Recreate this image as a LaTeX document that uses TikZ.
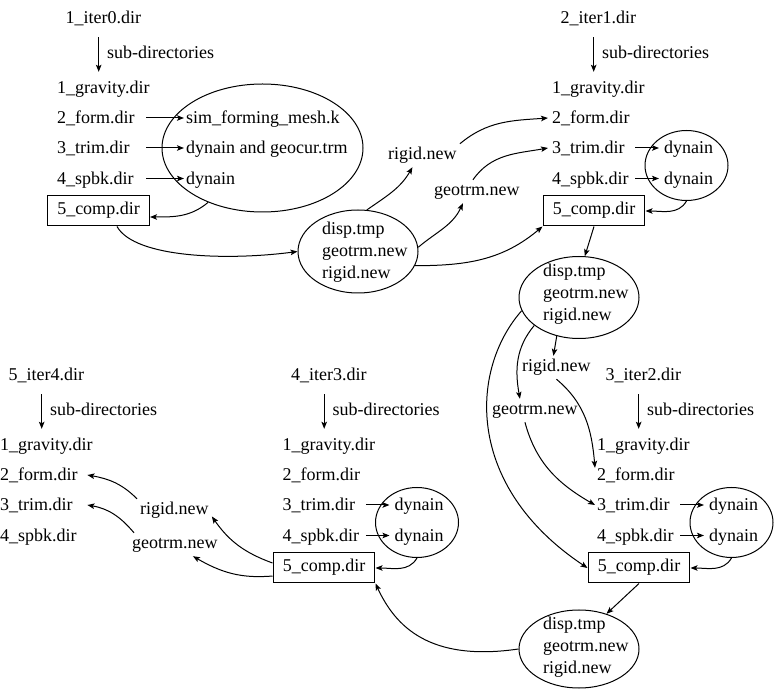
\documentclass[tikz,border=0pt]{standalone}
\usepackage{fontspec}
\setmainfont{Liberation Serif}
\usetikzlibrary{arrows.meta,shapes.geometric}
\begin{document}
\begin{tikzpicture}[x=1pt,y=1pt,
  every node/.style={font=\fontsize{18pt}{22pt}\selectfont},
  txt/.style={inner sep=0pt, anchor=base west, text height=13pt, text depth=1pt},
  lbl/.style={inner sep=3pt, anchor=base west, text height=13pt, text depth=4pt},
  dirbox/.style={draw, line width=1pt, inner xsep=9.75pt, inner ysep=6.5pt, text height=12.5pt, text depth=4.5pt, anchor=base},
  ell/.style={draw, ellipse, line width=1pt, inner sep=0pt},
  arr/.style={-{Stealth[length=7pt,width=5.5pt,inset=1.5pt]}, line width=1pt},
  lines/.style={inner sep=0pt, anchor=west, align=left},
]
\useasboundingbox (0,0) rectangle (780,-692);

% ---------- group 1 ----------
\begin{scope}[shift={(57,0)}]
\node[txt] (g1it) at (8.5,-24) {1\_iter0.dir};
\node[txt] (g1sd) at (50,-59) {sub-directories};
\node[txt] (g1gr) at (0,-94) {1\_gravity.dir};
\node[txt] (g1fo) at (0,-124) {2\_form.dir};
\node[txt] (g1tr) at (0,-154) {3\_trim.dir};
\node[txt] (g1sp) at (0,-184.5) {4\_spbk.dir};
\node[dirbox] (b1) at (41.5,-215) {5\_comp.dir};
\node[ell, minimum width=201pt, minimum height=128pt] (e1) at (205.5,-148) {};
\node[txt] (g1f1) at (129,-124) {sim\_forming\_mesh.k};
\node[txt] (g1f2) at (129,-154) {dynain and geocur.trm};
\node[txt] (g1f3) at (129,-184.5) {dynain};
\end{scope}
\draw[arr] ([xshift=-4.75pt,yshift=-12pt]g1it.south) -- ([xshift=-4.75pt,yshift=9pt]g1it.south |- g1gr.north);
\draw[arr] ([xshift=11.5pt]g1fo.east) -- ([xshift=-2pt]g1f1.west);
\draw[arr] ([xshift=16.5pt]g1tr.east) -- ([xshift=-2pt]g1f2.west);
\draw[arr] ([xshift=12.5pt]g1sp.east) -- ([xshift=-2pt]g1f3.west);
\draw[arr] (e1.225) to[out=-140,in=0] ([yshift=-6pt]b1.east);

% ---------- group 2 ----------
\begin{scope}[shift={(552,0)}]
\node[txt] (g2it) at (8.5,-24) {2\_iter1.dir};
\node[txt] (g2sd) at (50,-59) {sub-directories};
\node[txt] (g2gr) at (0,-94) {1\_gravity.dir};
\node[txt] (g2fo) at (0,-124) {2\_form.dir};
\node[txt] (g2tr) at (0,-154) {3\_trim.dir};
\node[txt] (g2sp) at (0,-184.5) {4\_spbk.dir};
\node[dirbox] (b2) at (42,-215) {5\_comp.dir};
\node[ell, minimum width=83pt, minimum height=70pt] (g2e) at (134.5,-165.5) {};
\node[txt] (g2d1) at (112,-154) {dynain};
\node[txt] (g2d2) at (112,-184.5) {dynain};
\end{scope}
\draw[arr] ([xshift=-4.75pt,yshift=-12pt]g2it.south) -- ([xshift=-4.75pt,yshift=9pt]g2it.south |- g2gr.north);
\draw[arr] ([xshift=10.5pt]g2tr.east) -- ([xshift=-5pt]g2d1.west);
\draw[arr] ([xshift=6.5pt]g2sp.east) -- ([xshift=-5pt]g2d2.west);
\draw[arr] (g2e.south) to[out=-120,in=0] (b2.east);

% ---------- group 3 ----------
\begin{scope}[shift={(597,-357)}]
\node[txt] (g3it) at (8.5,-24) {3\_iter2.dir};
\node[txt] (g3sd) at (50,-59) {sub-directories};
\node[txt] (g3gr) at (0,-94) {1\_gravity.dir};
\node[txt] (g3fo) at (0,-124) {2\_form.dir};
\node[txt] (g3tr) at (0,-154) {3\_trim.dir};
\node[txt] (g3sp) at (0,-184.5) {4\_spbk.dir};
\node[dirbox] (b3) at (42,-215) {5\_comp.dir};
\node[ell, minimum width=83pt, minimum height=70pt] (g3e) at (134.5,-165.5) {};
\node[txt] (g3d1) at (112,-154) {dynain};
\node[txt] (g3d2) at (112,-184.5) {dynain};
\end{scope}
\draw[arr] ([xshift=-4.75pt,yshift=-12pt]g3it.south) -- ([xshift=-4.75pt,yshift=9pt]g3it.south |- g3gr.north);
\draw[arr] ([xshift=10.5pt]g3tr.east) -- ([xshift=-5pt]g3d1.west);
\draw[arr] ([xshift=6.5pt]g3sp.east) -- ([xshift=-5pt]g3d2.west);
\draw[arr] (g3e.south) to[out=-120,in=0] (b3.east);

% ---------- group 4 ----------
\begin{scope}[shift={(282.5,-357)}]
\node[txt] (g4it) at (8.5,-24) {4\_iter3.dir};
\node[txt] (g4sd) at (50,-59) {sub-directories};
\node[txt] (g4gr) at (0,-94) {1\_gravity.dir};
\node[txt] (g4fo) at (0,-124) {2\_form.dir};
\node[txt] (g4tr) at (0,-154) {3\_trim.dir};
\node[txt] (g4sp) at (0,-184.5) {4\_spbk.dir};
\node[dirbox] (b4) at (41.5,-215) {5\_comp.dir};
\node[ell, minimum width=83pt, minimum height=70pt] (g4e) at (134.5,-165.5) {};
\node[txt] (g4d1) at (112,-154) {dynain};
\node[txt] (g4d2) at (112,-184.5) {dynain};
\end{scope}
\draw[arr] ([xshift=-4.75pt,yshift=-12pt]g4it.south) -- ([xshift=-4.75pt,yshift=9pt]g4it.south |- g4gr.north);
\draw[arr] ([xshift=10.5pt]g4tr.east) -- ([xshift=-5pt]g4d1.west);
\draw[arr] ([xshift=6.5pt]g4sp.east) -- ([xshift=-5pt]g4d2.west);
\draw[arr] (g4e.south) to[out=-120,in=0] (b4.east);

% ---------- group 5 ----------
\begin{scope}[shift={(0,-357)}]
\node[txt] (g5it) at (8.5,-24) {5\_iter4.dir};
\node[txt] (g5sd) at (50,-59) {sub-directories};
\node[txt] (g5gr) at (0,-94) {1\_gravity.dir};
\node[txt] (g5fo) at (0,-124) {2\_form.dir};
\node[txt] (g5tr) at (0,-154) {3\_trim.dir};
\node[txt] (g5sp) at (0,-184.5) {4\_spbk.dir};
\end{scope}
\draw[arr] ([xshift=-4.75pt,yshift=-12pt]g5it.south) -- ([xshift=-4.75pt,yshift=9pt]g5it.south |- g5gr.north);

% ---------- transfer ellipses and labels ----------
\node[ell, minimum width=120pt, minimum height=83pt] (e2) at (358,-251.5) {};
\node[lines] (t2) at (322,-251.8) {disp.tmp\\geotrm.new\\rigid.new};
\node[lbl] (r1) at (385,-160) {rigid.new};
\node[lbl] (gl1) at (431,-196) {geotrm.new};

\node[ell, minimum width=120pt, minimum height=82pt] (e3) at (579,-297.5) {};
\node[lines] (t3) at (543,-293.8) {disp.tmp\\geotrm.new\\rigid.new};
\node[lbl] (r2) at (519,-372) {rigid.new};
\node[lbl] (gl2) at (489,-415) {geotrm.new};

\node[ell, minimum width=120pt, minimum height=78pt] (e4) at (579,-649) {};
\node[lines] (t4) at (543,-647.3) {disp.tmp\\geotrm.new\\rigid.new};
\node[lbl] (r3) at (137,-515) {rigid.new};
\node[lbl] (gl3) at (129,-549) {geotrm.new};

% iteration 0 -> 1
\draw[arr] ([xshift=18.5pt]b1.south) .. controls +(18,-32) and +(-68,-9) .. (e2.west);
\draw[arr] (e2.78) to[out=35,in=-120] ([xshift=-10pt]r1.south);
\draw[arr] (r1.north east) to[out=40,in=184] ([xshift=-4pt]g2fo.west);
\draw[arr] (e2.4) to[out=40,in=-115] ([xshift=-14pt]gl1.south);
\draw[arr] ([xshift=-4pt]gl1.north) to[out=55,in=190] ([xshift=-4pt]g2tr.west);
\draw[arr] (e2.-14) to[out=0,in=-140] (b2.south west);

% iteration 1 -> 2
\draw[arr] (b2.south) -- (e3.82);
\draw[arr] (e3.240) -- ([xshift=-3pt]r2.north);
\draw[arr] (e3.212) to[out=230,in=100] ([xshift=-15pt]gl2.north);
\draw[arr] (e3.193) .. controls +(-52,-59) and +(-123,82) .. (b3.west);
\draw[arr] (r2.south) to[out=-40,in=95] ([xshift=-2pt]g3fo.north west);
\draw[arr] ([xshift=-10pt]gl2.south) to[out=-75,in=150] ([xshift=-2pt]g3tr.west);

% iteration 2 -> 3
\draw[arr] (b3.south) -- (e4.52);
\draw[arr] (e4.west) .. controls +(-89,-13) and +(20,-43) .. (b4.south east);

% iteration 3 -> 4
\draw[arr] ([yshift=5pt]b4.west) to[out=160,in=-55] ([yshift=-6pt]r3.east);
\draw[arr] ([yshift=-8pt]b4.west) to[out=185,in=-30] ([xshift=18pt]gl3.south);
\draw[arr] (r3.north west) to[out=135,in=-10] ([xshift=9.5pt]g5fo.east);
\draw[arr] ([xshift=5pt]gl3.north west) to[out=130,in=-10] ([xshift=14.5pt]g5tr.east);
\end{tikzpicture}
\end{document}
